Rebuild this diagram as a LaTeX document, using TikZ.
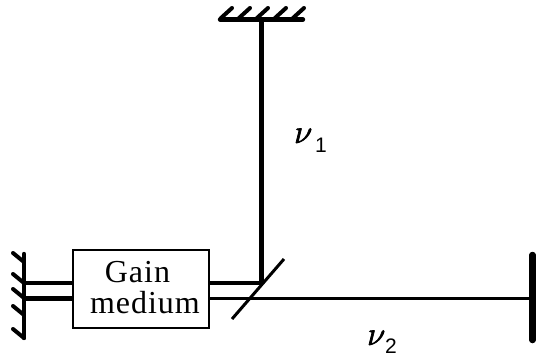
\RequirePackage{fix-cm}
\documentclass[tikz,border=0pt]{standalone}
\usepackage{fontspec}
\setmainfont{Liberation Serif}
\newfontfamily\subfont{Liberation Sans}
\newfontfamily\gainfont[LetterSpace=3]{Liberation Serif}
\newcommand{\heavynu}{\special{pdf:code 2 Tr 0.7 w}$\nu$\special{pdf:code 0 Tr}}
\begin{document}
\begin{tikzpicture}[x=1pt,y=-1pt,
  beam/.style={line width=4.2pt,black},
  thinbeam/.style={line width=3.7pt,black},
  hatch/.style={line width=4pt,black,line cap=round},
  mirror/.style={line width=4.4pt,black,line cap=round},
  lbl/.style={inner sep=0pt,anchor=base west,text=black}]
\useasboundingbox (0,0) rectangle (536,356);
\node[draw=black,line width=2pt,minimum width=136pt,minimum height=78pt,inner sep=0pt] (gain) at (141,289) {};
\node[inner sep=0pt,anchor=base] (gaintext) at (137.5,282) {\fontsize{32}{32}\gainfont Gain};
\node[inner sep=0pt,anchor=base] (medtext) at (145,313.5) {\fontsize{32}{32}\gainfont medium};
% mirrors
\coordinate (lm1) at (24,254); \coordinate (lm2) at (24,338);
\coordinate (tm1) at (220,19.5); \coordinate (tm2) at (303,19.5);
\coordinate (rm1) at (532.5,255); \coordinate (rm2) at (532.5,340);
\draw[mirror] (lm1) -- (lm2);
\draw[mirror] (tm1) -- (tm2);
\draw[line width=6.5pt,black,line cap=round] (rm1) -- (rm2);
\foreach \y in {262,283,298,315,338} \draw[hatch] (24,\y) -- ++(-11,-9);
\foreach \x in {221,239,257,275,293} \draw[hatch] (\x,18) -- ++(11,-10);
% beams
\coordinate (bsup) at (261.5,283);
\coordinate (endr) at (532,298.5);
\coordinate (endt) at (261.5,19.5);
\coordinate (bs1) at (232,319); \coordinate (bs2) at (284,259);
\draw[beam] (lm1 |- bsup) -- (gain.west |- bsup);
\draw[beam] (lm1 |- endr) -- (gain.west |- endr);
\draw[beam] (gain.east |- bsup) -- (bsup);
\draw[thinbeam] (gain.east |- endr) -- (endr);
\draw[beam] (bsup) -- (endt);
\draw[line width=3pt,black] (bs1) -- (bs2);
% labels
\node[lbl] (nu1) at (294,143) {\fontsize{33}{33}\selectfont\heavynu};
\node[lbl] (sub1) at (315,152) {\fontsize{21}{21}\subfont 1};
\node[lbl] (nu2) at (367,345) {\fontsize{33}{33}\selectfont\heavynu};
\node[lbl] (sub2) at (385,353) {\fontsize{21}{21}\subfont 2};
\end{tikzpicture}
\end{document}
